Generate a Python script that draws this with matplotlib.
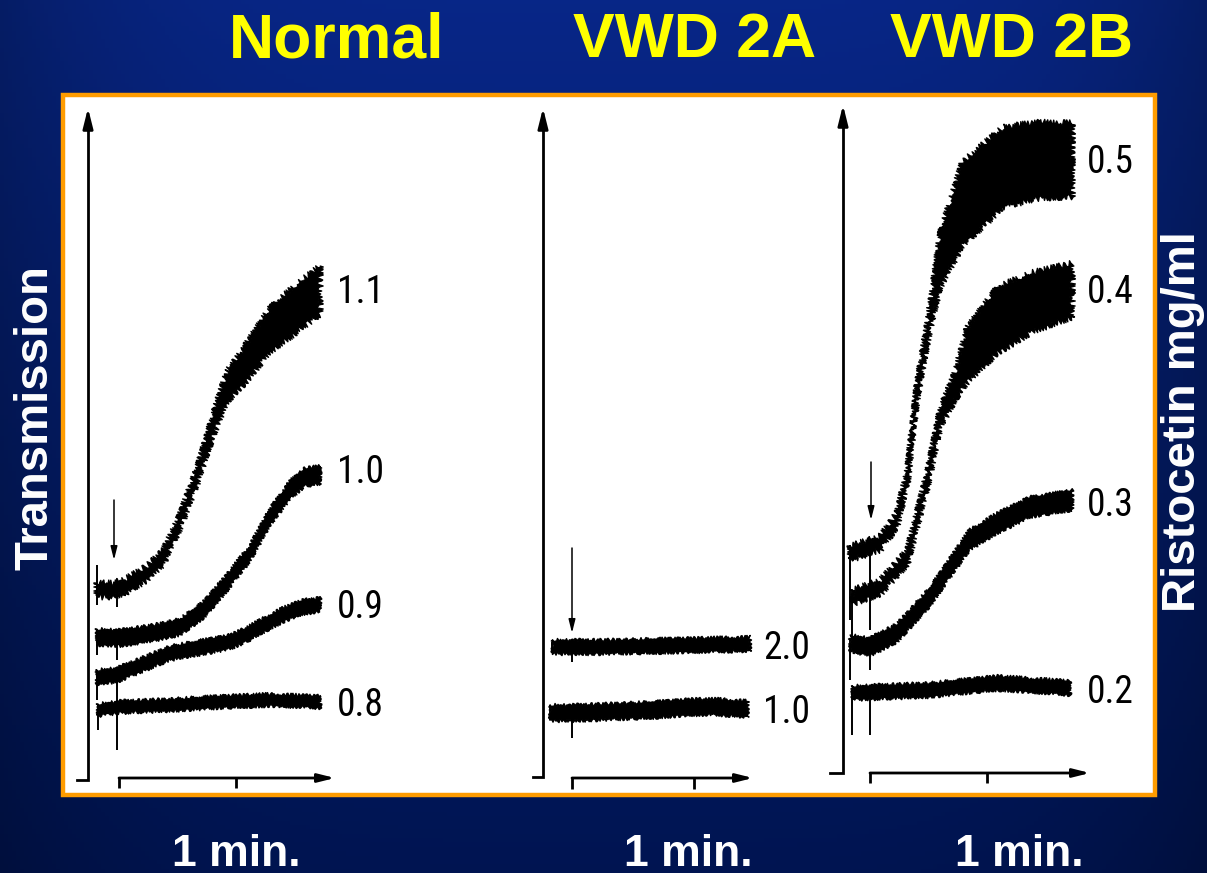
"""
Platelet aggregation traces with ristocetin: Normal vs VWD 2A vs VWD 2B.
"""

import numpy as np
import matplotlib
matplotlib.use("Agg")
import matplotlib.pyplot as plt
from matplotlib import font_manager
from matplotlib.patches import Rectangle

plt.rcParams["font.family"] = ["Liberation Sans", "DejaVu Sans"]

W, H = 1207, 873

# ---- data: time in minutes from ristocetin addition, deflection in chart units
# Normal
N_T11 = [-0.19, -0.05, 0.07, 0.24, 0.38, 0.52, 0.67, 0.75, 0.84, 0.92, 1.06, 1.29, 1.52, 1.72]
N_Y11 = [200, 200, 205, 217, 233, 268, 315, 345, 377, 403, 423, 460, 482, 500]
N_W11 = [7, 7, 7, 7, 7, 7, 8, 9, 12, 15, 18, 22, 24, 24]
N_T10 = [-0.19, 0.01, 0.29, 0.52, 0.72, 0.92, 1.12, 1.29, 1.46, 1.59, 1.72]
N_Y10 = [153, 152, 157, 163, 180, 207, 237, 273, 300, 313, 315]
N_W10 = [8, 8, 8, 8, 8, 8, 8, 8, 9, 9, 9]
N_T09 = [-0.19, -0.02, 0.15, 0.44, 0.72, 0.95, 1.10, 1.25, 1.40, 1.57, 1.72]
N_Y09 = [113, 115, 123, 137, 143, 148, 156, 166, 175, 183, 185]
N_W09 = [7, 7, 7, 7, 7, 7, 7, 7, 7, 7, 7]
N_T08 = [-0.18, 0.01, 0.44, 0.86, 1.29, 1.72]
N_Y08 = [80, 83, 85, 88, 90, 88]
N_W08 = [6, 6, 6, 6, 6, 6]
N_LABELS = ["1.1", "1.0", "0.9", "0.8"]
N_LABEL_Y = [487, 307, 172, 74]
N_START_SPIKE = [(185, 225), (135, 160), (90, 120), (60, 85)]
N_INJ_SPIKE = [183, 130, 70, 40]

# VWD 2A
A_T20 = [-0.16, 0.0, 0.23, 0.64, 1.05, 1.46]
A_Y20 = [143, 143, 143, 144, 145, 146]
A_W20 = [7, 7, 7, 7, 7, 7]
A_T10 = [-0.18, 0.0, 0.23, 0.64, 1.00, 1.21, 1.44]
A_Y10 = [77, 77, 78, 80, 83, 83, 81]
A_W10 = [8, 8, 8, 8, 8, 8, 8]
A_LABELS = ["2.0", "1.0"]
A_LABEL_Y = [131, 67]
A_START_SPIKE = [(138, 148), (72, 84)]
A_INJ_SPIKE = [128, 52]

# VWD 2B
B_T05 = [-0.17, 0.09, 0.23, 0.32, 0.40, 0.49, 0.54, 0.60, 0.79, 1.14, 1.45, 1.73]
B_Y05 = [237, 247, 270, 313, 397, 457, 490, 530, 586, 623, 630, 630]
B_W05 = [7, 7, 7, 7, 8, 10, 15, 27, 42, 40, 38, 37]
B_T04 = [-0.15, 0.09, 0.32, 0.49, 0.60, 0.73, 0.83, 1.09, 1.37, 1.73]
B_Y04 = [193, 203, 233, 310, 372, 405, 435, 470, 487, 500]
B_W04 = [7, 7, 7, 8, 9, 14, 27, 33, 30, 27]
B_T03 = [-0.17, 0.0, 0.23, 0.51, 0.85, 1.09, 1.37, 1.73]
B_Y03 = [147, 143, 157, 193, 250, 267, 283, 290]
B_W03 = [8, 9, 9, 9, 10, 10, 10, 10]
B_T02 = [-0.15, 0.51, 1.09, 1.71]
B_Y02 = [97, 100, 107, 102]
B_W02 = [7, 7, 7, 7]
B_LABELS = ["0.5", "0.4", "0.3", "0.2"]
B_LABEL_Y = [617, 487, 274, 87]
B_START_SPIKE = [(170, 245), (150, 200), (110, 150), (55, 100)]
B_INJ_SPIKE = [200, 160, 120, 55]

TITLES = ["Normal", "VWD 2A", "VWD 2B"]

# panel layout in pixels
PANELS = [
    dict(left=66, right=420, inj=119, ppm=117, yax=88, foot=77, bar=12, top=682,
         bar_end=335, lab=337, arrow=(114, 290, 230), tick_lo=2, foot_y=10,
         traces=[(N_T11, N_Y11, N_W11), (N_T10, N_Y10, N_W10),
                 (N_T09, N_Y09, N_W09), (N_T08, N_Y08, N_W08)],
         labels=N_LABELS, label_y=N_LABEL_Y,
         start_spike=N_START_SPIKE, inj_spike=N_INJ_SPIKE, inj_t=-0.02),
    dict(left=500, right=830, inj=572, ppm=122, yax=543, foot=533, bar=12, top=682,
         bar_end=753, lab=763, arrow=(572, 242, 157), tick_lo=1, foot_y=13,
         traces=[(A_T20, A_Y20, A_W20), (A_T10, A_Y10, A_W10)],
         labels=A_LABELS, label_y=A_LABEL_Y,
         start_spike=A_START_SPIKE, inj_spike=A_INJ_SPIKE, inj_t=0.0),
    dict(left=820, right=1150, inj=870, ppm=117, yax=843, foot=830, bar=17, top=685,
         bar_end=1090, lab=1087, arrow=(871, 328, 270), tick_lo=7, foot_y=17,
         traces=[(B_T05, B_Y05, B_W05), (B_T04, B_Y04, B_W04),
                 (B_T03, B_Y03, B_W03), (B_T02, B_Y02, B_W02)],
         labels=B_LABELS, label_y=B_LABEL_Y,
         start_spike=B_START_SPIKE, inj_spike=B_INJ_SPIKE, inj_t=0.0),
]

# pick a narrow face for the concentration labels if one is installed
installed = [(f.name, f.stretch) for f in font_manager.fontManager.ttflist]
names = {n for n, _ in installed}
label_font = dict(family="DejaVu Sans", fontsize=25)
for cand in ["Liberation Sans Narrow", "Roboto Condensed", "Open Sans Condensed",
             "Noto Sans Condensed", "DejaVu Sans Condensed"]:
    if cand in names:
        label_font = dict(family=cand, fontsize=27)
        break
else:
    if ("DejaVu Sans", "condensed") in installed or ("DejaVu Sans", "semi-condensed") in installed:
        label_font = dict(family="DejaVu Sans", fontstretch="condensed", fontsize=26)
    elif any(n == "Noto Sans" and s != "normal" for n, s in installed):
        label_font = dict(family="Noto Sans", fontstretch="condensed", fontsize=27)

fig = plt.figure(figsize=(W / 100, H / 100), dpi=100)

# background gradient
bg = fig.add_axes([0, 0, 1, 1], zorder=-3)
yy = np.linspace(0, 1, 200)[:, None]
xx = np.linspace(-1, 1, 300)[None, :]
top = np.array([0.03, 0.15, 0.53])
bot = np.array([0.0, 0.08, 0.32])
grad = top * (1 - yy[..., None]) + bot * yy[..., None]
grad = grad * (1 - 0.25 * (xx[..., None] ** 4))
bg.imshow(grad, aspect="auto", extent=[0, 1, 0, 1])
bg.set_axis_off()

# white box with orange frame
box = Rectangle((63 / W, 1 - 795 / H), (1155 - 63) / W, (795 - 95) / H,
                transform=fig.transFigure, facecolor="white",
                edgecolor="#FF9C00", linewidth=3.2, zorder=-1)
fig.patches.append(box)

BOX_BOTTOM, BOX_TOP = 790, 97

for p in PANELS:
    ax = fig.add_axes([p["left"] / W, 1 - BOX_BOTTOM / H,
                       (p["right"] - p["left"]) / W, (BOX_BOTTOM - BOX_TOP) / H])
    ax.patch.set_alpha(0)
    ax.set_axis_off()
    ax.set_xlim((p["left"] - p["inj"]) / p["ppm"], (p["right"] - p["inj"]) / p["ppm"])
    ax.set_ylim(0, BOX_BOTTOM - BOX_TOP)
    tx = lambda px: (px - p["inj"]) / p["ppm"]

    # vertical transmission axis with foot
    ax.plot([tx(p["foot"]), tx(p["yax"]), tx(p["yax"])], [p["foot_y"], p["foot_y"], p["top"] - 15],
            color="black", lw=2.0, solid_joinstyle="miter")
    ax.annotate("", xy=(tx(p["yax"]), p["top"]), xytext=(tx(p["yax"]), p["top"] - 22),
                arrowprops=dict(arrowstyle="-|>,head_length=1.2,head_width=0.3",
                                color="black", lw=2.0, shrinkA=0, shrinkB=0))
    # time bar
    ax.annotate("", xy=(tx(p["bar_end"]), p["bar"]), xytext=(0, p["bar"]),
                arrowprops=dict(arrowstyle="-|>,head_length=1.0,head_width=0.25",
                                color="black", lw=2.0, shrinkA=0, shrinkB=0))
    ax.vlines([0, 1], p["tick_lo"], p["bar"], color="black", lw=2.0)

    # injection arrow
    ax_x, ay0, ay1 = p["arrow"]
    ax.annotate("", xy=(tx(ax_x), ay1), xytext=(tx(ax_x), ay0),
                arrowprops=dict(arrowstyle="-|>,head_length=0.8,head_width=0.2",
                                color="black", lw=1.1, shrinkA=0, shrinkB=0))

    for (t, y, w), lab, ly, ss, isp in zip(p["traces"], p["labels"], p["label_y"],
                                           p["start_spike"], p["inj_spike"]):
        t = np.asarray(t, float)
        y = np.asarray(y, float)
        w = np.asarray(w, float)
        xs = np.concatenate([t, t[::-1]])
        ys = np.concatenate([y + w, (y - w)[::-1]])
        poly = ax.fill(xs, ys, color="black", lw=1.0, joinstyle="round")[0]
        if w.max() > 20:
            poly.set_sketch_params(scale=3.0, length=2.0, randomness=4)
        else:
            poly.set_sketch_params(scale=1.6, length=2.5, randomness=3)
        ax.vlines(t[0], ss[0], ss[1], color="black", lw=1.4)
        ax.vlines(p["inj_t"], isp, y[0] if t[0] > p["inj_t"] else np.interp(p["inj_t"], t, y),
                  color="black", lw=1.4)
        ax.text(tx(p["lab"]), ly, lab, ha="left", va="baseline", color="black", **label_font)

# titles and captions
for title, cx in zip(TITLES, [337, 695, 1011]):
    fig.text(cx / W, 1 - 57 / H, title, fontsize=45, fontweight="bold", color="#FFFF00",
             ha="center", va="baseline")
for cx in [236, 688, 1019]:
    fig.text(cx / W, 1 - 866 / H, "1 min.", fontsize=32, fontweight="bold", color="white",
             ha="center", va="baseline")
fig.text(36 / W, 1 - 418 / H, "Transmission", fontsize=34, fontweight="bold", color="white",
         rotation=90, ha="center", va="center")
fig.text(1183 / W, 1 - 422 / H, "Ristocetin mg/ml", fontsize=34, fontweight="bold", color="white",
         rotation=90, ha="center", va="center")

fig.savefig("out.png", dpi=100)
